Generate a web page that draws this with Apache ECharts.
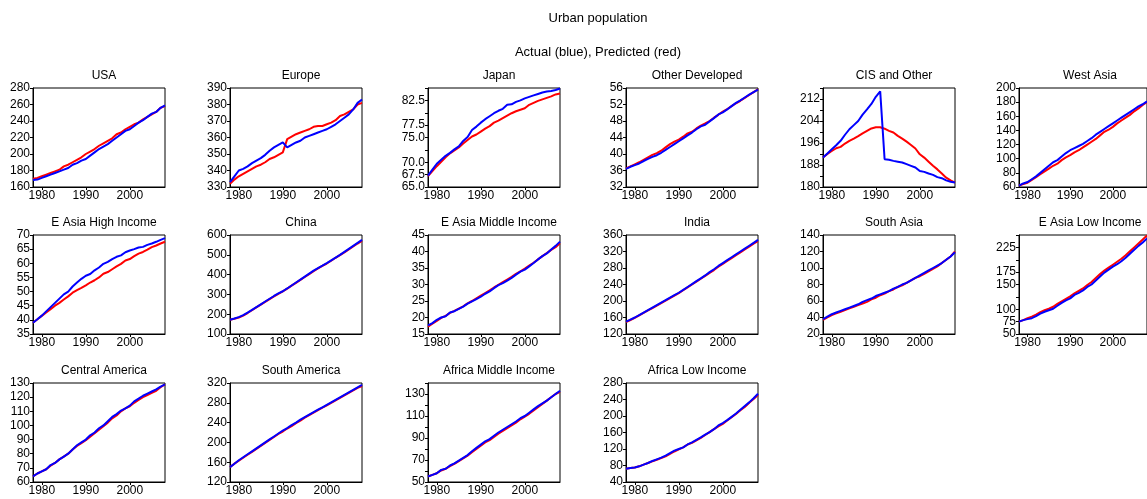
<!DOCTYPE html>
<html>
<head>
<meta charset="utf-8">
<script src="https://cdn.jsdelivr.net/npm/echarts@6/dist/echarts.min.js"></script>
<style>
html,body{margin:0;padding:0;background:#fff;}
#chart{width:1147px;height:499px;}
</style>
</head>
<body>
<div id="chart"></div>
<script>
// Years 1978..2008
const years = [];
for (let y = 1978; y <= 2008; y++) years.push(y);
const xTickLabels = [1980, 1990, 2000];

const usaActual = [168.5,169,171,173,175,177,179,181,183,187,189,192,194,198,202,206,209,212,216,220,224,228,230,234,238,241,245,249,251,256,259];
const usaPredicted = [170,171,173,175,177,179,181,185,187,190,193,196,200,203,206,210,213,216,219,224,226,230,233,236,238,242,245,248,251,256,258];
const usaTicks = [160,180,200,220,240,260,280];

const europeActual = [333,336.5,340,341,342.5,344.5,346,347.5,349.5,352,354,355.5,357,354,355.5,357,358,360,361,362,363,364,365,366.5,368,370,372,374,377,381,383];
const europePredicted = [332,334.5,336.5,338,339.5,341,342.5,343.5,345,347,348,349.5,351,359,360.5,362,363,364,365,366.5,367,367,368,369,370.5,373,374,375.5,377,380,381];
const europeTicks = [330,340,350,360,370,380,390];

const japanActual = [67.3,68.5,69.7,70.5,71.3,71.9,72.6,73.2,74.3,75.1,76.5,77.2,78.0,78.7,79.3,79.9,80.4,80.8,81.6,81.7,82.2,82.5,82.9,83.2,83.5,83.8,84.1,84.3,84.4,84.6,84.9];
const japanPredicted = [67.2,68.2,69.2,70.1,71.0,71.8,72.4,73.0,73.8,74.5,75.2,75.6,76.2,76.8,77.3,78.0,78.4,78.9,79.4,79.9,80.3,80.6,80.9,81.6,82.0,82.4,82.7,83.0,83.3,83.7,83.9];
const japanTicks = [65,67.5,70,72.5,75,77.5,80,82.5,85];
const japanLabels = [65,67.5,70,75,77.5,82.5];

const otherDevActual = [36.4,36.9,37.3,37.7,38.3,38.8,39.3,39.7,40.3,41.0,41.7,42.4,43.1,43.8,44.5,45.2,46.0,46.7,47.1,47.9,48.7,49.6,50.1,50.8,51.6,52.4,53.0,53.7,54.4,55.0,55.6];
const otherDevPredicted = [36.5,37.0,37.5,38.0,38.6,39.2,39.8,40.2,40.8,41.6,42.4,43.0,43.5,44.2,45.0,45.4,46.2,46.9,47.4,48.0,48.8,49.5,50.3,50.9,51.6,52.3,52.9,53.6,54.3,55.0,55.7];
const otherDevTicks = [32,36,40,44,48,52,56];

const cisActual = [190.7,192.2,193.7,195.2,196.8,199,201,202.5,204,206.3,208.2,210.2,212.8,214.8,190.1,189.9,189.5,189.2,188.9,188.3,187.7,187.1,185.8,185.5,184.9,184.4,183.6,183.2,182.4,181.9,181.6];
const cisPredicted = [190.7,192.0,193.1,194.1,194.6,195.8,196.8,197.6,198.5,199.5,200.4,201.3,201.7,201.7,201.2,200.4,199.8,198.6,197.6,196.5,195.3,194.0,191.9,190.7,189.2,187.7,186.4,184.9,183.4,182.4,181.6];
const cisTicks = [180,184,188,192,196,200,204,208,212,216];
const cisLabels = [180,188,196,204,212];

const westAsiaActual = [62,65,67,71,75,80,85,90,95,98,103,108,112,115,118,121,125,129,134,138,142,146,150,154,158,162,166,170,174,177,181];
const westAsiaPredicted = [62,64,66,70,74,78,82,86,90,93,98,102,105,109,112,116,120,124,128,133,138,141,145,150,154,158,162,167,171,176,180];
const westAsiaTicks = [60,80,100,120,140,160,180,200];

const eaHighActual = [39.0,40.2,41.5,43.0,44.5,46.0,47.5,49.0,50.0,51.8,53.2,54.5,55.6,56.2,57.5,58.5,59.8,60.5,61.5,62.3,62.8,63.9,64.5,65.0,65.6,65.8,66.5,67.0,67.6,68.3,68.9];
const eaHighPredicted = [39.0,40.2,41.4,42.6,43.8,45.0,46.0,47.2,48.3,49.6,50.5,51.3,52.2,53.2,54.0,55.0,56.3,56.9,57.9,58.9,59.8,61.0,61.5,62.5,63.4,64.0,64.8,65.7,66.3,67.0,67.6];
const eaHighTicks = [35,40,45,50,55,60,65,70];

const chinaActual = [172,178,185,195,208,222,236,250,264,278,292,305,316,330,345,360,375,390,405,420,433,445,458,472,486,500,515,530,545,560,575];
const chinaPredicted = [172,177,183,193,206,220,234,248,262,276,290,303,315,329,344,358,373,388,402,417,431,444,456,470,485,498,512,527,542,557,570];
const chinaTicks = [100,200,300,400,500,600];

const eaMidActual = [17.6,18.3,19.3,20.0,20.4,21.5,21.9,22.6,23.3,24.2,24.9,25.6,26.3,27.2,27.9,28.9,29.8,30.4,31.2,32.0,33.0,33.9,34.5,35.5,36.5,37.6,38.6,39.4,40.6,41.7,43.0];
const eaMidPredicted = [17.2,18.1,19.0,19.9,20.5,21.4,22.0,22.7,23.4,24.3,25.0,25.8,26.6,27.4,28.2,29.1,29.9,30.7,31.5,32.3,33.2,34.0,34.8,35.7,36.6,37.6,38.6,39.5,40.5,41.3,42.5];
const eaMidTicks = [15,20,25,30,35,40,45];

const indiaActual = [150,155,160,166,172,178,184,190,196,202,208,214,220,227,234,241,248,255,262,270,277,285,292,299,306,313,320,327,334,341,348];
const indiaPredicted = [149,154,159,165,171,177,183,189,195,201,207,213,219,226,233,240,247,254,261,268,275,283,290,297,304,311,318,325,332,339,345];
const indiaTicks = [120,160,200,240,280,320,360];

const southAsiaActual = [38,41,44,46,48,50,52,54,56,59,61,63,66,68,70,72,75,77,80,82,85,88,91,94,97,100,103,106,110,114,119];
const southAsiaPredicted = [37,40,43,45,47,49,51,53,55,57,59,62,64,67,69,72,74,77,79,82,85,88,90,93,96,99,102,106,110,114,120];
const southAsiaTicks = [20,40,60,80,100,120,140];

const eaLowActual = [75,78,80,82,86,91,95,98,101,107,113,118,122,129,133,138,145,150,158,166,174,180,186,191,197,204,212,220,228,235,243];
const eaLowPredicted = [75,78,82,85,89,94,98,101,105,111,116,121,126,132,137,142,149,155,163,171,178,184,190,196,202,209,217,225,233,241,249];
const eaLowTicks = [50,75,100,125,150,175,200,225,250];
const eaLowLabels = [50,75,100,150,175,225];

const centralAmActual = [64,66,67.5,69,72,73.5,76,78,80,83,86,88,90,93,95,98,100,103,106,108,110.5,112,114,117,119,121,122.5,124,125.5,127.5,129];
const centralAmPredicted = [64,66,67.5,69,71.5,73.5,76,78,80,83,85.5,87.5,89.5,92,94.5,97,99.5,102,105,107,110,112,113.5,116,118,120,121.5,123,124.5,127,129];
const centralAmTicks = [60,70,80,90,100,110,120,130];

const southAmActual = [150,157,164,170,176,182,188,194,200,206,212,218,224,229,235,240,246,251,256,261,266,271,276,281,286,291,296,301,306,311,316];
const southAmPredicted = [150,157,163,169,175,181,187,193,199,205,211,217,222,228,233,239,244,250,255,260,265,270,275,280,285,290,295,300,305,310,314];
const southAmTicks = [120,160,200,240,280,320];

const africaMidActual = [55,56.5,58,61,62,65,67,69.5,72,74.5,78,81,84,87,89,92,95,97.5,100,102.5,105,108,110,113,116,119,121.5,124,127,130,133];
const africaMidPredicted = [55,56.5,58,60.5,62,64.5,66.5,69,71.5,74,77,80,83,86,88,91,94,96.5,99,101.5,104,107,109.5,112,115,118,121,124,127,130,132];
const africaMidTicks = [50,60,70,80,90,100,110,120,130,140];
const africaMidLabels = [50,70,90,110,130];

const africaLowActual = [72,74,75,78,82,86,91,95,99,104,110,116,120,124,131,136,142,148,155,161,168,177,183,190,198,206,215,224,233,243,254];
const africaLowPredicted = [72,74,75,78,82,86,90,94,98,102,108,114,119,124,131,135,141,147,154,161,168,175,181,189,197,205,214,222,232,241,251];
const africaLowTicks = [40,80,120,160,200,240,280];

const panels = [
  ['USA', usaActual, usaPredicted, usaTicks, usaTicks, 0],
  ['Europe', europeActual, europePredicted, europeTicks, europeTicks, 0],
  ['Japan', japanActual, japanPredicted, japanTicks, japanLabels, 1],
  ['Other Developed', otherDevActual, otherDevPredicted, otherDevTicks, otherDevTicks, 0],
  ['CIS and Other', cisActual, cisPredicted, cisTicks, cisLabels, 0],
  ['West Asia', westAsiaActual, westAsiaPredicted, westAsiaTicks, westAsiaTicks, 0],
  ['E Asia High Income', eaHighActual, eaHighPredicted, eaHighTicks, eaHighTicks, 0],
  ['China', chinaActual, chinaPredicted, chinaTicks, chinaTicks, 0],
  ['E Asia Middle Income', eaMidActual, eaMidPredicted, eaMidTicks, eaMidTicks, 0],
  ['India', indiaActual, indiaPredicted, indiaTicks, indiaTicks, 0],
  ['South Asia', southAsiaActual, southAsiaPredicted, southAsiaTicks, southAsiaTicks, 0],
  ['E Asia Low Income', eaLowActual, eaLowPredicted, eaLowTicks, eaLowLabels, 0],
  ['Central America', centralAmActual, centralAmPredicted, centralAmTicks, centralAmTicks, 0],
  ['South America', southAmActual, southAmPredicted, southAmTicks, southAmTicks, 0],
  ['Africa Middle Income', africaMidActual, africaMidPredicted, africaMidTicks, africaMidLabels, 0],
  ['Africa Low Income', africaLowActual, africaLowPredicted, africaLowTicks, africaLowTicks, 0]
];

const colLeft = [33, 230, 428, 626, 823, 1019];
const rowTop = [88, 235, 383];
const boxW = 132, boxH = 99;
const font = 'Liberation Sans, Arial, sans-serif';

const grids = [], xAxes = [], yAxes = [], series = [], titles = [];
titles.push({text: 'Urban population', left: 593, top: 7, textAlign: 'center',
  textStyle: {fontFamily: font, fontSize: 13, fontWeight: 'normal', color: '#000'}});
titles.push({text: 'Actual (blue), Predicted (red)', left: 593, top: 41, textAlign: 'center',
  textStyle: {fontFamily: font, fontSize: 13, fontWeight: 'normal', color: '#000'}});

panels.forEach((p, i) => {
  const [name, act, pred, ticks, labels, dec] = p;
  const c = i % 6, r = Math.floor(i / 6);
  const left = colLeft[c], top = rowTop[r];
  grids.push({left: left, top: top, width: boxW, height: boxH, show: true,
    borderColor: '#000', borderWidth: 1, backgroundColor: '#fff', containLabel: false});
  titles.push({text: name, left: left + boxW / 2, top: top - 23, textAlign: 'center',
    textStyle: {fontFamily: font, fontSize: 12, fontWeight: 'normal', color: '#000'}});
  xAxes.push({type: 'value', gridIndex: i, min: 1978, max: 2008,
    axisLine: {show: true, lineStyle: {color: '#000', width: 1}},
    axisTick: {show: true, length: 3, customValues: xTickLabels, lineStyle: {color: '#000'}},
    axisLabel: {customValues: xTickLabels, margin: 3, fontFamily: font, fontSize: 12, color: '#000',
      formatter: v => String(v)},
    splitLine: {show: false}});
  yAxes.push({type: 'value', gridIndex: i, min: ticks[0], max: ticks[ticks.length - 1],
    axisLine: {show: true, lineStyle: {color: '#000', width: 1}},
    axisTick: {show: true, length: 3, customValues: ticks, lineStyle: {color: '#000'}},
    axisLabel: {customValues: labels, margin: 3, fontFamily: font, fontSize: 12, color: '#000',
      formatter: v => dec ? v.toFixed(1) : String(v)},
    splitLine: {show: false}});
  series.push({type: 'line', xAxisIndex: i, yAxisIndex: i, showSymbol: false, silent: true,
    data: years.map((y, k) => [y, pred[k]]), lineStyle: {color: '#ff0000', width: 2}, z: 2, animation: false});
  series.push({type: 'line', xAxisIndex: i, yAxisIndex: i, showSymbol: false, silent: true,
    data: years.map((y, k) => [y, act[k]]), lineStyle: {color: '#0000ff', width: 2}, z: 3, animation: false});
});

const chart = echarts.init(document.getElementById('chart'), null, {renderer: 'canvas'});
chart.setOption({animation: false, backgroundColor: '#fff', title: titles, grid: grids,
  xAxis: xAxes, yAxis: yAxes, series: series});
</script>
</body>
</html>
